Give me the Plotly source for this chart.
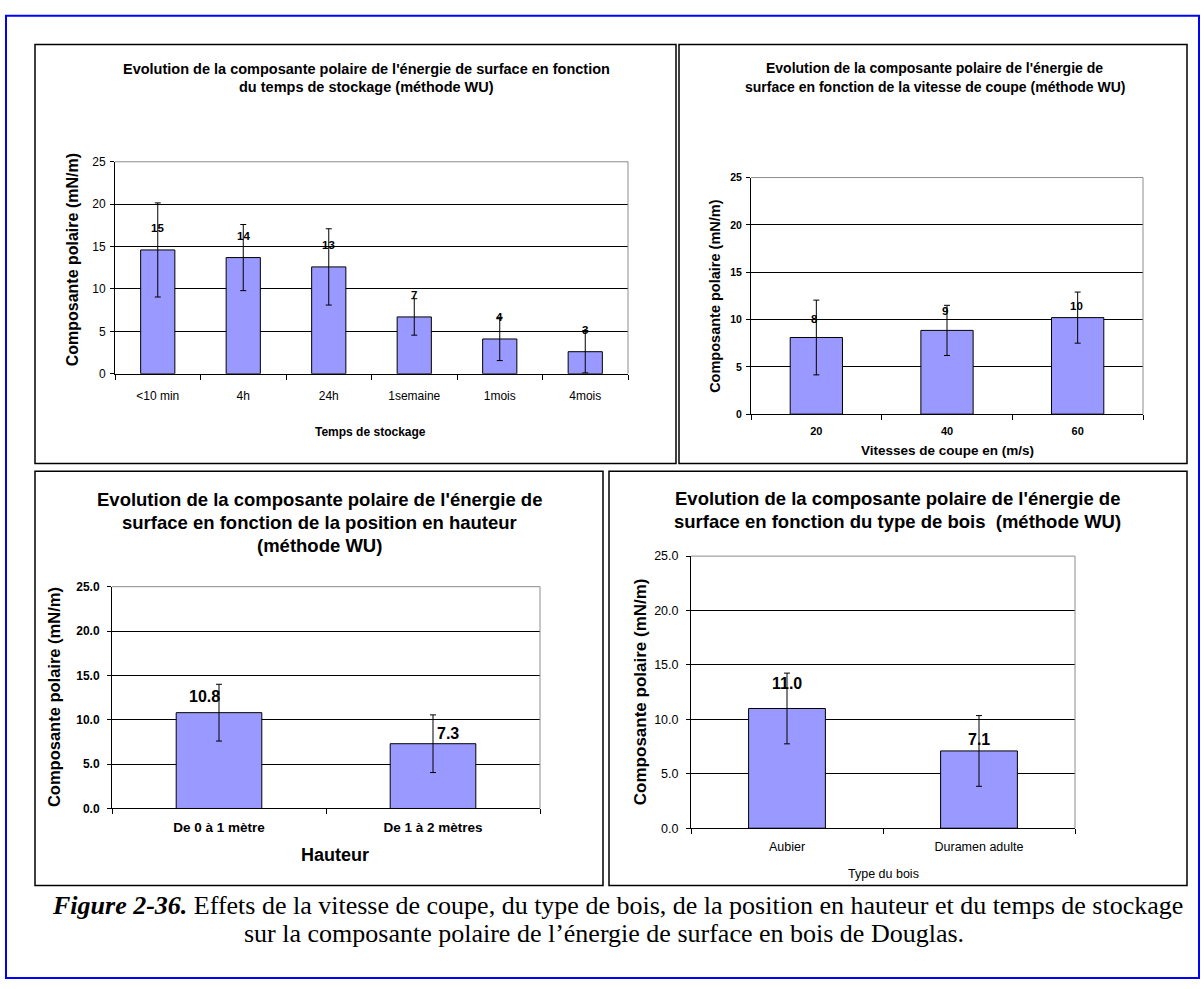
import plotly.graph_objects as go

W, H = 1204, 989

# ---------------- data ----------------
tl_categories = ["<10 min", "4h", "24h", "1semaine", "1mois", "4mois"]
tl_values = [14.6, 13.7, 12.6, 6.7, 4.1, 2.6]
tl_errors = [5.55, 3.9, 4.5, 2.15, 2.55, 2.5]

tr_categories = ["20", "40", "60"]
tr_values = [8.1, 8.85, 10.2]
tr_errors = [3.95, 2.65, 2.7]

bl_categories = ["De 0 à 1 mètre", "De 1 à 2 mètres"]
bl_values = [10.8, 7.3]
bl_errors = [3.2, 3.25]

br_categories = ["Aubier", "Duramen adulte"]
br_values = [11.0, 7.1]
br_errors = [3.25, 3.25]

y_ticks = [0, 5, 10, 15, 20, 25]

FONT = "Liberation Sans, Arial, sans-serif"
SERIF = "Liberation Serif, Times New Roman, serif"
BAR = "#9999FF"


def fx(px):
    return px / W


def fy(py):
    return 1 - py / H


panels = [
    dict(key="", cats=tl_categories, vals=tl_values, errs=tl_errors, fmt=".0f", yfmt=".0f",
         box=(35, 38, 676, 463), plot=(115, 157, 628, 372),
         title=["Evolution de la composante polaire de l'énergie de surface en fonction",
                "du temps de stockage (méthode WU)"],
         title_x=366, title_y=[63, 81], title_size=14.5,
         xtitle="<b>Temps de stockage</b>", xtitle_pos=(370, 431), xtitle_size=12,
         ytitle_pos=(72, 257), ytitle_size=16,
         ytick_font=dict(size=12, bold=False), xtick_font=dict(size=12, bold=False),
         xstand=11, ystand=2, label_size=11.5, label_shift=[(0, 22)] * 6),
    dict(key="2", cats=tr_categories, vals=tr_values, errs=tr_errors, fmt=".0f", yfmt=".0f",
         box=(679, 38, 1187, 463), plot=(751, 173, 1143, 413),
         title=["Evolution de la composante polaire de l'énergie de",
                "surface en fonction de la vitesse de coupe (méthode WU)"],
         title_x=935, title_y=[62, 81], title_size=14,
         xtitle="<b>Vitesses de coupe en (m/s)</b>", xtitle_pos=(947, 450), xtitle_size=13.5,
         ytitle_pos=(715, 293), ytitle_size=14.5,
         ytick_font=dict(size=10.5, bold=True), xtick_font=dict(size=11, bold=True),
         xstand=7, ystand=2, label_size=11.5, label_shift=[(-2, 18), (-2, 19), (-1, 12)]),
    dict(key="3", cats=bl_categories, vals=bl_values, errs=bl_errors, fmt=".1f", yfmt=".1f",
         box=(35, 471, 603, 891), plot=(112, 588, 540, 813),
         title=["Evolution de la composante polaire de l'énergie de",
                "surface en fonction de la position en hauteur",
                "(méthode WU)"],
         title_x=319, title_y=[500, 523, 546], title_size=18.5,
         xtitle="<b>Hauteur</b>", xtitle_pos=(335, 860), xtitle_size=18,
         ytitle_pos=(54, 700), ytitle_size=16.5,
         ytick_font=dict(size=12, bold=True), xtick_font=dict(size=13.5, bold=True),
         xstand=6, ystand=5, label_size=16, label_shift=[(-15, 16), (15, 10)]),
    dict(key="4", cats=br_categories, vals=br_values, errs=br_errors, fmt=".1f", yfmt=".1f",
         box=(609, 471, 1187, 891), plot=(691, 557, 1075, 833),
         title=["Evolution de la composante polaire de l'énergie de",
                "surface en fonction du type de bois  (méthode WU)"],
         title_x=898, title_y=[499, 522], title_size=18.5,
         xtitle="Type du bois", xtitle_pos=(883, 879), xtitle_size=12.5,
         ytitle_pos=(640, 695), ytitle_size=17,
         ytick_font=dict(size=12.5, bold=False), xtick_font=dict(size=12.5, bold=False),
         xstand=7, ystand=5, label_size=16, label_shift=[(0, 25), (0, 11)]),
]

fig = go.Figure()
shapes = []
annotations = []
layout_axes = {}

for p in panels:
    k = p["key"]
    xa = "x" + k
    ya = "y" + k
    l, t, r, b = p["plot"]
    n = len(p["cats"])

    fig.add_trace(go.Bar(
        x=p["cats"], y=p["vals"], xaxis=xa, yaxis=ya,
        width=0.4,
        marker=dict(color=BAR, line=dict(color="black", width=1)),
        error_y=dict(type="data", array=p["errs"], visible=True,
                     color="black", thickness=1, width=3),
        showlegend=False, hoverinfo="skip",
    ))

    def tf(d):
        return dict(family=FONT, size=d["size"], color="black",
                    weight="bold" if d["bold"] else "normal")

    layout_axes["xaxis" + k] = dict(
        domain=[fx(l), fx(r)], anchor=ya, type="category",
        categoryorder="array", categoryarray=p["cats"], range=[-0.5, n - 0.5],
        showline=True, linecolor="black", linewidth=1,
        ticks="outside", tickson="boundaries", ticklen=5, tickcolor="black", tickwidth=1,
        showgrid=False, zeroline=False, tickfont=tf(p["xtick_font"]), tickangle=0,
        ticklabelstandoff=p["xstand"], fixedrange=True,
    )
    layout_axes["yaxis" + k] = dict(
        domain=[fy(b), fy(t)], anchor=xa, range=[0, 25],
        tickvals=y_ticks, tickformat=p["yfmt"],
        showline=True, linecolor="black", linewidth=1,
        ticks="outside", ticklen=4, tickcolor="black", tickwidth=1,
        showgrid=True, gridcolor="black", gridwidth=1, zeroline=False,
        tickfont=tf(p["ytick_font"]), ticklabelstandoff=p["ystand"], fixedrange=True,
    )

    # plot-area border (grey) on top and right
    shapes.append(dict(type="line", xref="paper", yref="paper",
                       x0=fx(l), x1=fx(r), y0=fy(t), y1=fy(t),
                       line=dict(color="#8c8c8c", width=1), layer="above"))
    shapes.append(dict(type="line", xref="paper", yref="paper",
                       x0=fx(r), x1=fx(r), y0=fy(t), y1=fy(b),
                       line=dict(color="#8c8c8c", width=1), layer="above"))

    # panel box
    bx0, by0, bx1, by1 = p["box"]
    shapes.append(dict(type="rect", xref="paper", yref="paper",
                       x0=fx(bx0), x1=fx(bx1), y0=fy(by1), y1=fy(by0),
                       line=dict(color="black", width=1.5), fillcolor="rgba(0,0,0,0)"))

    # title (one annotation per line)
    for line_text, ly in zip(p["title"], p["title_y"]):
        annotations.append(dict(
            x=fx(p["title_x"]), y=fy(ly), xref="paper", yref="paper",
            text="<b>" + line_text + "</b>", showarrow=False,
            xanchor="center", yanchor="middle",
            font=dict(family=FONT, size=p["title_size"], color="black")))
    # x title
    annotations.append(dict(
        x=fx(p["xtitle_pos"][0]), y=fy(p["xtitle_pos"][1]), xref="paper", yref="paper",
        text=p["xtitle"], showarrow=False, xanchor="center", yanchor="middle",
        font=dict(family=FONT, size=p["xtitle_size"], color="black")))
    # y title
    annotations.append(dict(
        x=fx(p["ytitle_pos"][0]), y=fy(p["ytitle_pos"][1]), xref="paper", yref="paper",
        text="<b>Composante polaire (mN/m)</b>", showarrow=False, textangle=-90,
        xanchor="center", yanchor="middle",
        font=dict(family=FONT, size=p["ytitle_size"], color="black")))
    # data labels
    for i, (v, (dx, dy)) in enumerate(zip(p["vals"], p["label_shift"])):
        annotations.append(dict(
            x=i, y=v, xref=xa, yref=ya, text="<b>" + format(v, p["fmt"]) + "</b>",
            showarrow=False, xanchor="center", yanchor="middle", xshift=dx, yshift=dy,
            font=dict(family=FONT, size=p["label_size"], color="black")))

# outer blue frame
shapes.append(dict(type="rect", xref="paper", yref="paper",
                   x0=fx(6), x1=fx(1199), y0=fy(985), y1=fy(9),
                   line=dict(color="#0000FF", width=2), fillcolor="rgba(0,0,0,0)"))

# caption
annotations.append(dict(
    x=fx(617), y=fy(911), xref="paper", yref="paper", showarrow=False,
    xanchor="center", yanchor="middle",
    text="<b><i>Figure 2-36.</i></b> Effets de la vitesse de coupe, du type de bois, de la position en hauteur et du temps de stockage",
    font=dict(family=SERIF, size=26, color="black")))
annotations.append(dict(
    x=fx(604), y=fy(940), xref="paper", yref="paper", showarrow=False,
    xanchor="center", yanchor="middle",
    text="sur la composante polaire de l\u2019énergie de surface en bois de Douglas.",
    font=dict(family=SERIF, size=26, color="black")))

fig.update_layout(
    width=W, height=H, margin=dict(l=0, r=0, t=0, b=0, pad=0),
    paper_bgcolor="white", plot_bgcolor="white",
    showlegend=False,
    shapes=shapes, annotations=annotations,
    font=dict(family=FONT, color="black"),
    **layout_axes,
)

fig.write_html("out.html", config={"displayModeBar": False},
               post_script="document.body.style.margin='0';")
